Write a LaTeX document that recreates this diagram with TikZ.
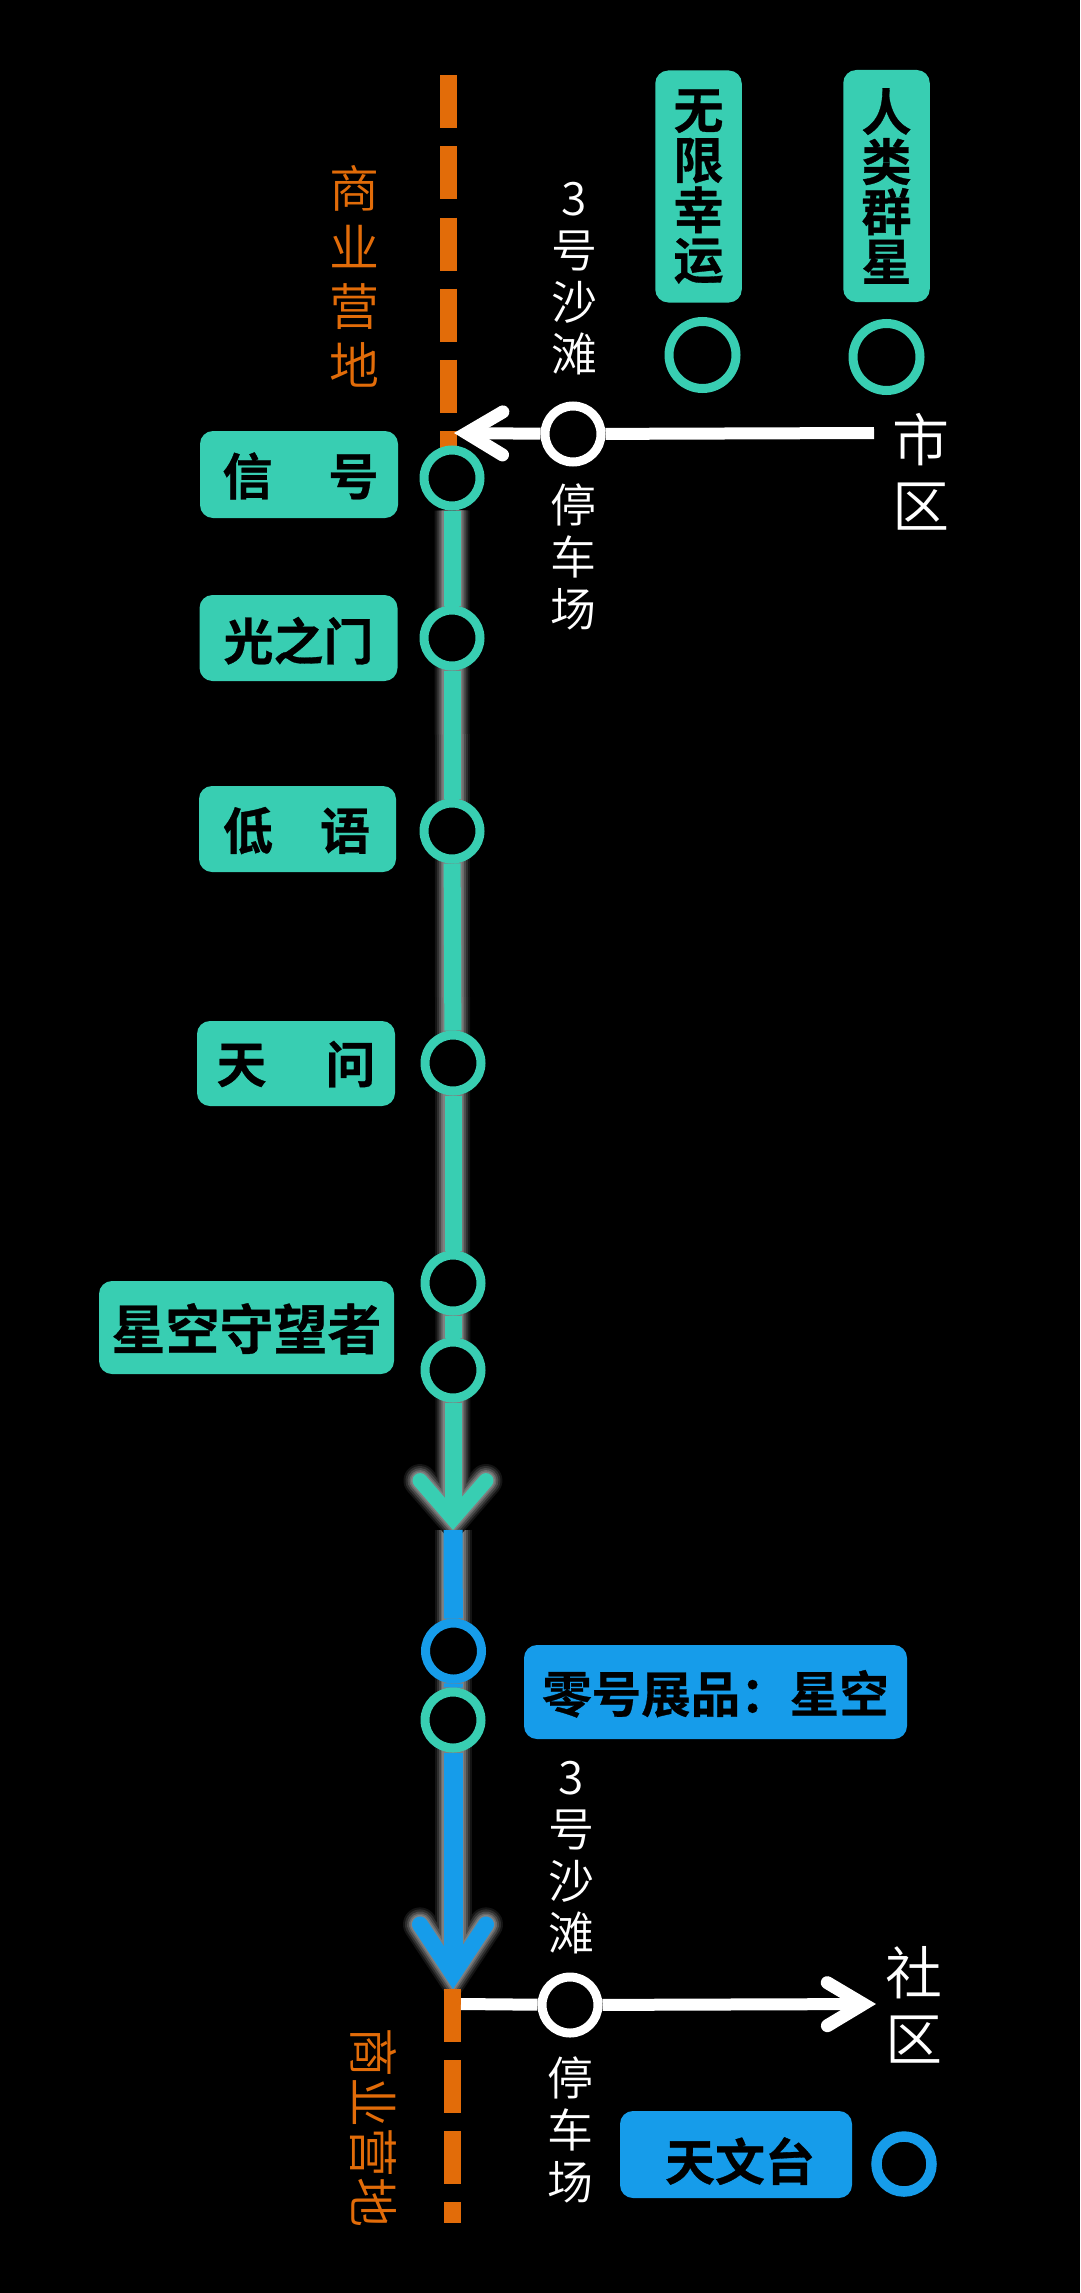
\documentclass[tikz,border=0pt]{standalone}
\usepackage{fontspec}
\usetikzlibrary{arrows.meta,backgrounds}
\newfontfamily\cjk{Noto Sans CJK SC DemiLight}
\newfontfamily\cjkbold[FakeBold=0.6]{Noto Sans CJK SC Bold}
\definecolor{teal}{RGB}{56,206,178}
\definecolor{sky}{RGB}{22,156,234}
\definecolor{camp}{RGB}{226,108,9}
\newcommand{\labelfont}[2]{\cjk\fontsize{#1}{#2}\selectfont}
\newcommand{\boxfont}[2]{\cjkbold\fontsize{#1}{#2}\selectfont}
\tikzset{
    stop/.style={circle,draw=#1,fill=black,line width=9pt,minimum size=56pt,inner sep=0pt},
    tag/.style={fill=#1,rounded corners=13pt,text=black,inner sep=0pt,align=center,font=\boxfont{50}{50}},
    rowtag/.style={text height=#1,text depth=4pt},
    word/.style={text=white,inner sep=0pt,align=center,font=\labelfont{46}{52}},
    bigword/.style={text=white,inner sep=0pt,align=center,font=\labelfont{57}{66}},
    campword/.style={text=camp,inner sep=0pt,align=center,font=\labelfont{50}{59}},
    campline/.style={draw=camp,line width=17pt,dash pattern=on 53pt off 18pt},
    whiteline/.style={draw=white,line width=12pt},
    whitetip/.style={-{Straight Barb[length=36pt,width=43pt,line width=13pt,line cap=round,line join=miter]}},
    tealtip/.style={-{Straight Barb[length=38pt,width=66pt,line width=#1,line cap=round,line join=miter]}},
    skytip/.style={-{Straight Barb[length=50pt,width=66pt,line width=#1,line cap=round,line join=miter]}}
}
\begin{document}
\begin{tikzpicture}[x=1pt,y=-1pt]
            \useasboundingbox (0,0) rectangle (1080,2293);

            \coordinate (campstart) at (448.5,75.5);
            \coordinate (campend) at (448.5,449);
            \coordinate (cityend) at (874,433);
            \coordinate (toptip) at (454,433);
            \coordinate (tealend) at (453,1530);
            \coordinate (skyend) at (453,1989);
            \coordinate (lowstart) at (452.5,1989);
            \coordinate (lowend) at (452.5,2223);
            \coordinate (branch) at (461,2004);
            \coordinate (lowtip) at (876,2004);

            \node[stop=teal] (signal) at (452,478) {};
            \node[stop=teal] (gate) at (452,638) {};
            \node[stop=teal] (whisper) at (452,831) {};
            \node[stop=teal] (ask) at (453,1063) {};
            \node[stop=teal] (watchone) at (453,1283) {};
            \node[stop=teal] (watchtwo) at (453,1370) {};
            \node[stop=sky] (zero) at (453.5,1651) {};
            \node[stop=teal] (after) at (453,1720) {};
            \node[stop=white] (parktop) at (573,434) {};
            \node[stop=white] (parklow) at (570,2005) {};
            \node[stop=teal,minimum size=67pt] (luck) at (702.5,355) {};
            \node[stop=teal,minimum size=67pt] (group) at (886.5,357) {};
            \node[stop=sky,minimum size=55pt,line width=10.5pt] (tower) at (904,2164) {};

            \begin{scope}[on background layer]
            \fill[black] (0,0) rectangle (1080,2293);
            \draw[campline] (campstart) -- (campend);
            \foreach \grow/\shade in {18/8,14/18,10/30,6/42,3/50}
            {
                \draw[white!\shade!black,line width=19pt+\grow pt,skytip=16pt+\grow pt,shorten >=-0.9*\grow pt] (tealend) -- (skyend);
            }
            \foreach \grow/\shade in {18/8,14/18,10/30,6/42,3/50}
            {
                \draw[white!\shade!black,line width=17pt+\grow pt,tealtip=15pt+\grow pt,shorten >=-0.76*\grow pt] (signal) -- (tealend);
            }
            \draw[sky,line width=19pt] (tealend) -- (zero);
            \draw[sky,line width=19pt] (zero) -- (after);
            \draw[sky,line width=19pt,skytip=16pt] (after) -- (skyend);
            \draw[campline] (lowstart) -- (lowend);
            \draw[teal,line width=17pt] (signal) -- (gate);
            \draw[teal,line width=17pt] (gate) -- (whisper);
            \draw[teal,line width=17pt] (whisper) -- (ask);
            \draw[teal,line width=17pt] (ask) -- (watchone);
            \draw[teal,line width=17pt] (watchone) -- (watchtwo);
            \draw[teal,line width=17pt,tealtip=15pt] (watchtwo) -- (tealend);

            \draw[whiteline] (cityend) -- (parktop);
            \draw[whiteline,whitetip] (parktop) -- (toptip);
            \draw[whiteline] (branch) -- (parklow);
            \draw[whiteline,whitetip] (parklow) -- (lowtip);
            \end{scope}

            \node[tag=teal,rowtag=45pt,minimum width=198pt,minimum height=87pt] (signaltag) at (299,474.5) {\hspace{3pt}信\hspace{56pt}号};
            \node[tag=teal,rowtag=48pt,minimum width=198pt,minimum height=86pt] (gatetag) at (298.5,638) {光之门};
            \node[tag=teal,rowtag=45pt,minimum width=197pt,minimum height=86pt] (whispertag) at (297.5,829) {低\hspace{47pt}语\hspace{2pt}};
            \node[tag=teal,rowtag=43pt,minimum width=198pt,minimum height=85pt] (asktag) at (296,1063.5) {天\hspace{59pt}问};
            \node[tag=teal,rowtag=48pt,minimum width=295pt,minimum height=93pt,font=\boxfont{54}{54}] (watchtag) at (246.5,1327.5) {星空守望者};
            \node[tag=sky,rowtag=45pt,minimum width=383pt,minimum height=94pt,font=\boxfont{49.5}{50}] (zerotag) at (715.5,1692) {零号展品：星空};
            \node[tag=sky,rowtag=56pt,minimum width=232pt,minimum height=87pt] (towertag) at (736,2154.5) {\hspace{8pt}天文台};
            \node[tag=teal,minimum width=86.5pt,minimum height=232pt] (lucktag) at (698.5,186.5) {无\\限\\幸\\运};
            \node[tag=teal,minimum width=86.5pt,minimum height=232pt] (grouptag) at (886.5,186) {人\\类\\群\\星};

            \node[word] (beachtop) at (574,279) {3\\号\\沙\\滩};
            \node[word] (carparktop) at (573,557) {停\\车\\场};
            \node[word] (beachlow) at (571,1858) {3\\号\\沙\\滩};
            \node[word] (carparklow) at (570,2130) {停\\车\\场};
            \node[bigword] (city) at (921,472) {市\\区};
            \node[bigword] (town) at (914,2005) {社\\区};
            \node[campword] (camptop) at (354,276) {商\\业\\营\\地};
            \node[campword,rotate=-90] (camplow) at (374,2127) {商业营地};
        \end{tikzpicture}
\end{document}
